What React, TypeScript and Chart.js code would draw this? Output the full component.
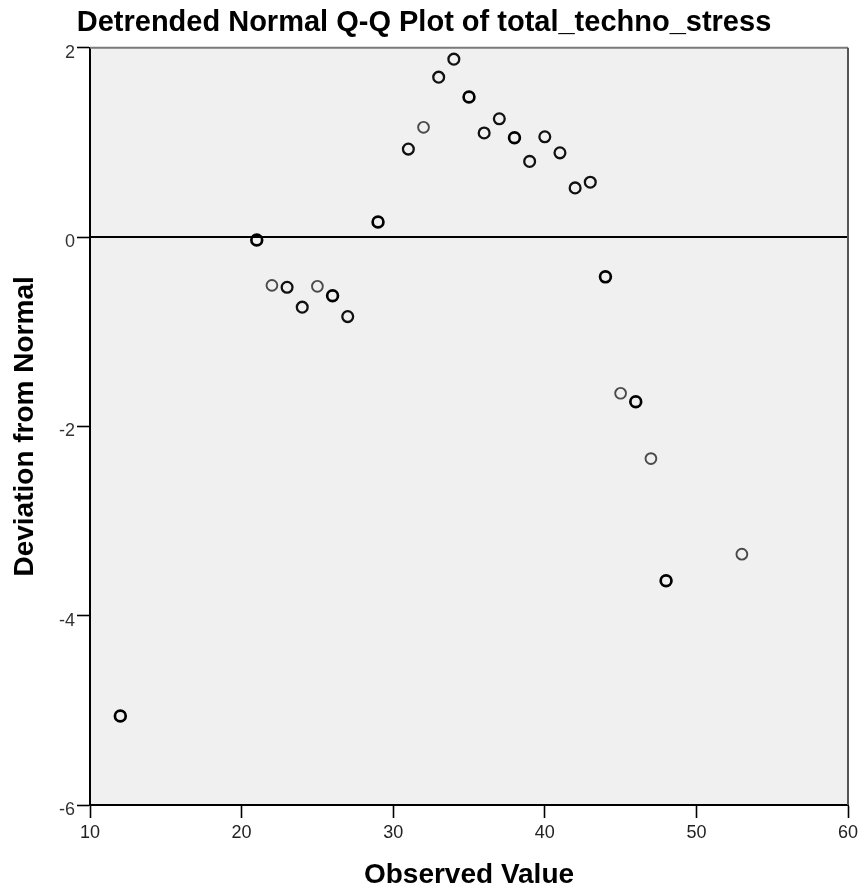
import React, { useEffect, useRef } from "react";
import { Chart, registerables } from "chart.js";

Chart.register(...registerables);

const TITLE = "Detrended Normal Q-Q Plot of total_techno_stress";
const X_TITLE = "Observed Value";
const Y_TITLE = "Deviation from Normal";

const observedValues = [12, 21, 22, 23, 24, 25, 26, 27, 29, 31, 32, 33, 34, 35, 36, 37, 38, 39, 40, 41, 42, 43, 44, 45, 46, 47, 48, 53];
const deviations = [-5.06, -0.03, -0.51, -0.53, -0.74, -0.52, -0.62, -0.84, 0.16, 0.93, 1.16, 1.69, 1.88, 1.48, 1.1, 1.25, 1.05, 0.8, 1.06, 0.89, 0.52, 0.58, -0.42, -1.65, -1.74, -2.34, -3.63, -3.35];

const xTickValues = [10, 20, 30, 40, 50, 60];
const yTickValues = [-6, -4, -2, 0, 2];

const referenceX = [10, 60];
const referenceY = [0, 0];

// observed values whose markers look heavier (overlapping cases) or lighter
const heavyValues = [12, 21, 26, 29, 35, 38, 44, 46, 48];
const lightValues = [22, 25, 32, 45, 47, 53];

const FONT = '"Liberation Sans", Arial, Helvetica, sans-serif';

const framePlugin = {
  id: "frame",
  beforeDraw(chart: any) {
    const { ctx, chartArea } = chart;
    const { left, top, right, bottom } = chartArea;
    ctx.save();
    ctx.fillStyle = "#f0f0f0";
    ctx.fillRect(left, top, right - left, bottom - top);
    ctx.restore();
  },
  afterDraw(chart: any) {
    const { ctx, chartArea } = chart;
    const { left, top, right, bottom } = chartArea;
    ctx.save();
    ctx.lineWidth = 2;
    ctx.strokeStyle = "#7a7a7a";
    ctx.beginPath();
    ctx.moveTo(left, top);
    ctx.lineTo(right, top);
    ctx.stroke();
    ctx.strokeStyle = "#555555";
    ctx.beginPath();
    ctx.moveTo(right, top);
    ctx.lineTo(right, bottom);
    ctx.stroke();
    ctx.restore();
  },
};

function pointStyleFor(value: number) {
  if (heavyValues.includes(value)) return { color: "#000000", width: 2.7 };
  if (lightValues.includes(value)) return { color: "#4a4a4a", width: 1.9 };
  return { color: "#111111", width: 2.3 };
}

export default function App() {
  const canvasRef = useRef<HTMLCanvasElement | null>(null);

  useEffect(() => {
    document.body.style.margin = "0";
    const canvas = canvasRef.current;
    if (!canvas) return;

    const points = observedValues.map((x, i) => ({ x, y: deviations[i] }));
    const refLine = referenceX.map((x, i) => ({ x, y: referenceY[i] }));

    const chart = new Chart(canvas, {
      type: "scatter",
      data: {
        datasets: [
          {
            label: "Deviation",
            data: points,
            order: 1,
            pointStyle: "circle",
            pointRadius: 5.4,
            pointHoverRadius: 5.4,
            backgroundColor: "rgba(0,0,0,0)",
            pointBorderColor: (c: any) => pointStyleFor(observedValues[c.dataIndex]).color,
            pointBorderWidth: (c: any) => pointStyleFor(observedValues[c.dataIndex]).width,
          } as any,
          {
            label: "Reference",
            data: refLine,
            order: 2,
            showLine: true,
            pointRadius: 0,
            borderColor: "#000000",
            borderWidth: 2,
          } as any,
        ],
      },
      options: {
        responsive: false,
        animation: false,
        layout: { padding: { top: 0, left: 0, right: 16, bottom: 0 } },
        plugins: {
          legend: { display: false },
          tooltip: { enabled: false },
          title: {
            display: true,
            text: TITLE,
            color: "#000000",
            font: { family: FONT, size: 29, weight: "bold", lineHeight: 1.2 },
            padding: { top: 6, bottom: 7 },
          },
        },
        scales: {
          x: {
            type: "linear",
            min: 10,
            max: 60,
            afterBuildTicks: (scale: any) => {
              scale.ticks = xTickValues.map((v) => ({ value: v }));
            },
            afterFit: (scale: any) => {
              scale.height = 88;
            },
            ticks: {
              color: "#222222",
              font: { family: FONT, size: 18 },
              padding: 4,
              maxRotation: 0,
            },
            grid: {
              display: true,
              drawOnChartArea: false,
              drawTicks: true,
              tickLength: 13,
              tickColor: "#000000",
              tickWidth: 1.6,
            },
            border: { display: true, color: "#000000", width: 2 },
            title: {
              display: true,
              text: X_TITLE,
              color: "#000000",
              font: { family: FONT, size: 28, weight: "bold", lineHeight: 1.2 },
              padding: { top: 0, bottom: 1 },
            },
          },
          y: {
            type: "linear",
            min: -6,
            max: 2,
            afterBuildTicks: (scale: any) => {
              scale.ticks = yTickValues.map((v) => ({ value: v }));
            },
            afterFit: (scale: any) => {
              scale.width = 90;
            },
            ticks: {
              color: "#333333",
              font: { family: FONT, size: 18 },
              padding: 2,
              labelOffset: 5,
            },
            grid: {
              display: true,
              drawOnChartArea: false,
              drawTicks: true,
              tickLength: 13,
              tickColor: "#000000",
              tickWidth: 1.6,
            },
            border: { display: true, color: "#000000", width: 2 },
            title: {
              display: true,
              text: Y_TITLE,
              color: "#000000",
              font: { family: FONT, size: 28, weight: "bold", lineHeight: 1.2 },
              padding: { top: 8, bottom: 0 },
            },
          },
        },
      } as any,
      plugins: [framePlugin],
    });

    return () => chart.destroy();
  }, []);

  return (
    <div style={{ width: 864, height: 893, background: "#ffffff" }}>
      <canvas ref={canvasRef} width={864} height={893} style={{ display: "block" }} />
    </div>
  );
}
